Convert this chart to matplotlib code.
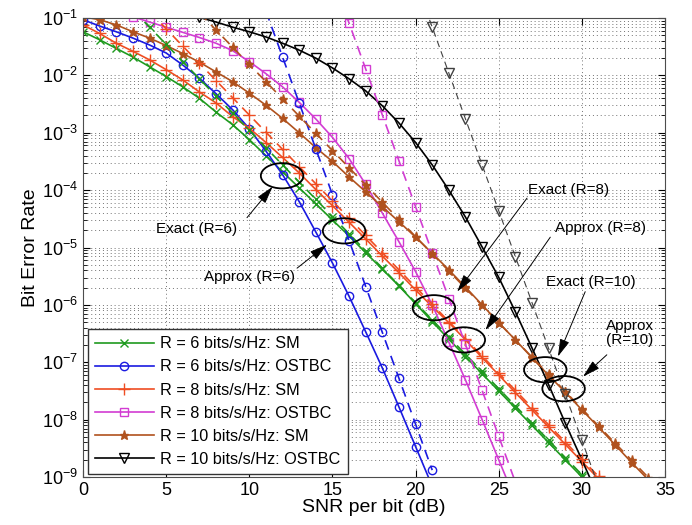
import numpy as np
import matplotlib
matplotlib.use('Agg')
import matplotlib.pyplot as plt
from matplotlib.patches import Ellipse
from matplotlib.ticker import NullFormatter

plt.rcParams['font.family'] = ['Liberation Sans', 'DejaVu Sans']
plt.rcParams['mathtext.fontset'] = 'custom'
plt.rcParams['mathtext.rm'] = 'Liberation Sans'

# SNR per bit (dB) and log10(BER)
snr_sm6 = list(range(0, 31))
sm6_exact = [-1.24, -1.38, -1.53, -1.68, -1.85, -2.02, -2.2, -2.4, -2.64, -2.86,
             -3.12, -3.4, -3.68, -3.96, -4.24, -4.52, -4.8, -5.09, -5.38, -5.67,
             -5.98, -6.29, -6.6, -6.9, -7.2, -7.5, -7.8, -8.1, -8.4, -8.7, -9.0]
snr_sm6_ap = list(range(3, 31))
sm6_approx = [-0.86, -1.16, -1.46, -1.76, -2.06, -2.36, -2.66, -2.96, -3.26, -3.56,
              -3.86, -4.16, -4.46, -4.76, -5.06, -5.36, -5.66, -5.96, -6.26, -6.56,
              -6.86, -7.16, -7.46, -7.76, -8.06, -8.36, -8.66, -8.96]

snr_os6 = list(range(0, 22))
os6_exact = [-1.03, -1.14, -1.24, -1.35, -1.47, -1.61, -1.82, -2.05, -2.32, -2.6,
             -2.93, -3.32, -3.73, -4.2, -4.73, -5.27, -5.85, -6.47, -7.1, -7.78,
             -8.47, -9.16]
snr_os6_ap = list(range(11, 22))
os6_approx = [-0.88, -1.68, -2.48, -3.28, -4.08, -4.88, -5.68, -6.48, -7.28, -8.08, -8.88]

snr_sm8 = list(range(0, 32))
sm8_exact = [-1.12, -1.27, -1.44, -1.58, -1.73, -1.9, -2.08, -2.29, -2.48, -2.72,
             -2.92, -3.17, -3.43, -3.7, -3.99, -4.27, -4.56, -4.85, -5.15, -5.44,
             -5.74, -6.03, -6.31, -6.61, -6.92, -7.22, -7.53, -7.83, -8.13, -8.43,
             -8.73, -9.03]
snr_sm8_ap = list(range(4, 32))
sm8_approx = [-0.89, -1.19, -1.49, -1.79, -2.09, -2.39, -2.69, -2.99, -3.29, -3.59,
              -3.89, -4.19, -4.49, -4.79, -5.09, -5.39, -5.69, -5.99, -6.29, -6.59,
              -6.89, -7.19, -7.49, -7.79, -8.09, -8.39, -8.69, -8.99]

snr_os8 = list(range(3, 27))
os8_exact = [-0.98, -1.07, -1.16, -1.25, -1.34, -1.44, -1.57, -1.76, -1.97, -2.2,
             -2.47, -2.76, -3.08, -3.45, -3.9, -4.4, -4.9, -5.42, -6.0, -6.65,
             -7.31, -8.0, -8.7, -9.4]
snr_os8_ap = list(range(15, 27))
os8_approx = [-0.29, -1.09, -1.89, -2.69, -3.49, -4.29, -5.09, -5.89, -6.69, -7.49,
              -8.29, -9.09]

snr_sm10 = list(range(0, 35))
sm10_exact = [-0.98, -1.03, -1.12, -1.24, -1.35, -1.48, -1.62, -1.77, -1.94, -2.11,
              -2.31, -2.52, -2.75, -3.0, -3.26, -3.5, -3.77, -4.03, -4.29, -4.55,
              -4.82, -5.1, -5.39, -5.69, -6.0, -6.31, -6.61, -6.92, -7.23, -7.52,
              -7.83, -8.13, -8.44, -8.75, -9.05]
snr_sm10_ap = list(range(7, 35))
sm10_approx = [-0.91, -1.21, -1.51, -1.81, -2.11, -2.41, -2.71, -3.01, -3.31, -3.61,
               -3.91, -4.21, -4.51, -4.81, -5.11, -5.41, -5.71, -6.01, -6.31, -6.61,
               -6.91, -7.21, -7.51, -7.81, -8.11, -8.41, -8.71, -9.01]

snr_os10 = list(range(7, 32))
os10_exact = [-0.99, -1.07, -1.16, -1.24, -1.33, -1.44, -1.56, -1.7, -1.87, -2.06,
              -2.27, -2.53, -2.83, -3.17, -3.56, -4.0, -4.47, -4.99, -5.52, -6.12,
              -6.75, -7.39, -8.06, -8.7, -9.35]
snr_os10_ap = list(range(20, 32))
os10_approx = [-0.36, -1.16, -1.96, -2.76, -3.56, -4.36, -5.16, -5.96, -6.76, -7.56,
               -8.36, -9.16]

labels = ['R = 6 bits/s/Hz: SM', 'R = 6 bits/s/Hz: OSTBC', 'R = 8 bits/s/Hz: SM',
          'R = 8 bits/s/Hz: OSTBC', 'R = 10 bits/s/Hz: SM', 'R = 10 bits/s/Hz: OSTBC']
y_decades = list(range(-9, 0))

green = '#1f9a1f'
blue = '#1a1ae0'
red = '#ef4d22'
magenta = '#d23cd2'
brown = '#b0521e'
black = '#000000'

fig = plt.figure(figsize=(6.92, 5.25), dpi=100)
ax = fig.add_axes([0.12, 0.0914, 0.841, 0.8743])

dash = (0, (6, 4))


def curve(x, logy, color, marker, ls='-', lw=1.2, ms=6, label=None):
    filled = marker in ('x', '+', '*')
    ax.semilogy(x, 10.0 ** np.array(logy), color=color, ls=ls, lw=lw,
                marker=marker, ms=ms, mew=1.0,
                mfc=color if filled else 'none', mec=color, label=label)


curve(snr_sm6, sm6_exact, green, 'x', label=labels[0])
curve(snr_os6, os6_exact, blue, 'o', label=labels[1])
curve(snr_sm8, sm8_exact, red, '+', ms=8, label=labels[2])
curve(snr_os8, os8_exact, magenta, 's', ms=5.5, label=labels[3])
curve(snr_sm10, sm10_exact, brown, '*', ms=6.5, label=labels[4])
curve(snr_os10, os10_exact, black, 'v', ms=7, label=labels[5])

curve(snr_sm6_ap, sm6_approx, green, 'x', ls=dash)
curve(snr_os6_ap, os6_approx, blue, 'o', ls=dash)
curve(snr_sm8_ap, sm8_approx, red, '+', ls=dash, ms=8)
curve(snr_os8_ap, os8_approx, magenta, 's', ls=dash, ms=5.5)
curve(snr_sm10_ap, sm10_approx, brown, '*', ls=dash, ms=6.5)
curve(snr_os10_ap, os10_approx, '0.25', 'v', ls=dash, lw=0.8, ms=7)

ax.set_xlim(0, 35)
ax.set_ylim(1e-9, 1e-1)
ax.set_xticks(range(0, 36, 5))
ax.set_yticks([10.0 ** d for d in y_decades])
ax.set_yticks([m * 10.0 ** d for d in y_decades[:-1] for m in range(2, 10)], minor=True)
ax.yaxis.set_minor_formatter(NullFormatter())
ax.tick_params(which='both', direction='in', top=True, right=True, labelsize=13)
ax.tick_params(which='major', length=5)
ax.tick_params(which='minor', length=3)
grid_ls = (0, (1, 3))
ax.grid(True, which='major', ls=grid_ls, color='0.45', lw=0.7)
ax.grid(True, which='minor', axis='y', ls=grid_ls, color='0.45', lw=0.7)
for s in ax.spines.values():
    s.set_color('0.3')

ax.set_xlabel('SNR per bit (dB)', fontsize=14, labelpad=0)
ax.set_ylabel('Bit Error Rate', fontsize=14, labelpad=2)

leg = ax.legend(loc='lower left', bbox_to_anchor=(0.008, 0.006), borderaxespad=0,
                fontsize=11.7, handlelength=3.6, labelspacing=0.5, handletextpad=0.4,
                fancybox=False, framealpha=1, edgecolor='0.2', borderpad=0.45)
leg.get_frame().set_linewidth(1.0)

# ellipses, arrows and notes
def to_axes(x, logy):
    return ax.transAxes.inverted().transform(ax.transData.transform((x, 10.0 ** logy)))


ellipses = [(11.97, -3.75), (15.7, -4.71), (21.1, -6.05), (22.9, -6.61),
            (27.8, -7.13), (28.9, -7.46)]
for ex, ey in ellipses:
    cx, cy = to_axes(ex, ey)
    ax.add_patch(Ellipse((cx, cy), 0.073, 0.055, transform=ax.transAxes,
                         fill=False, ec='k', lw=1.3, zorder=5))

notes = [('Exact (R=6)', (6.8, -4.68), (9.86, -4.48), (11.4, -3.94)),
         ('Approx (R=6)', (10.04, -5.51), (12.87, -5.36), (14.67, -4.95)),
         ('Exact (R=8)', (29.2, -4.0), (26.7, -4.14), (22.5, -5.77)),
         ('Approx (R=8)', (31.1, -4.66), (28.1, -4.82), (24.2, -6.44)),
         ('Exact (R=10)', (30.55, -5.6), (30.2, -5.77), (28.56, -6.9)),
         ('Approx\n(R=10)', (32.9, -6.49), (31.5, -6.87), (30.07, -7.25))]
for txt, tpos, start, tip in notes:
    ax.text(tpos[0], 10.0 ** tpos[1], txt, fontsize=11, ha='center', va='center',
            linespacing=1.0, zorder=6)
    ax.annotate('', xy=(tip[0], 10.0 ** tip[1]), xytext=(start[0], 10.0 ** start[1]),
                arrowprops=dict(arrowstyle='-|>,head_length=0.9,head_width=0.25',
                                color='k', lw=0.7, mutation_scale=12,
                                shrinkA=0, shrinkB=0), zorder=6)

fig.savefig('out.png', dpi=100)
